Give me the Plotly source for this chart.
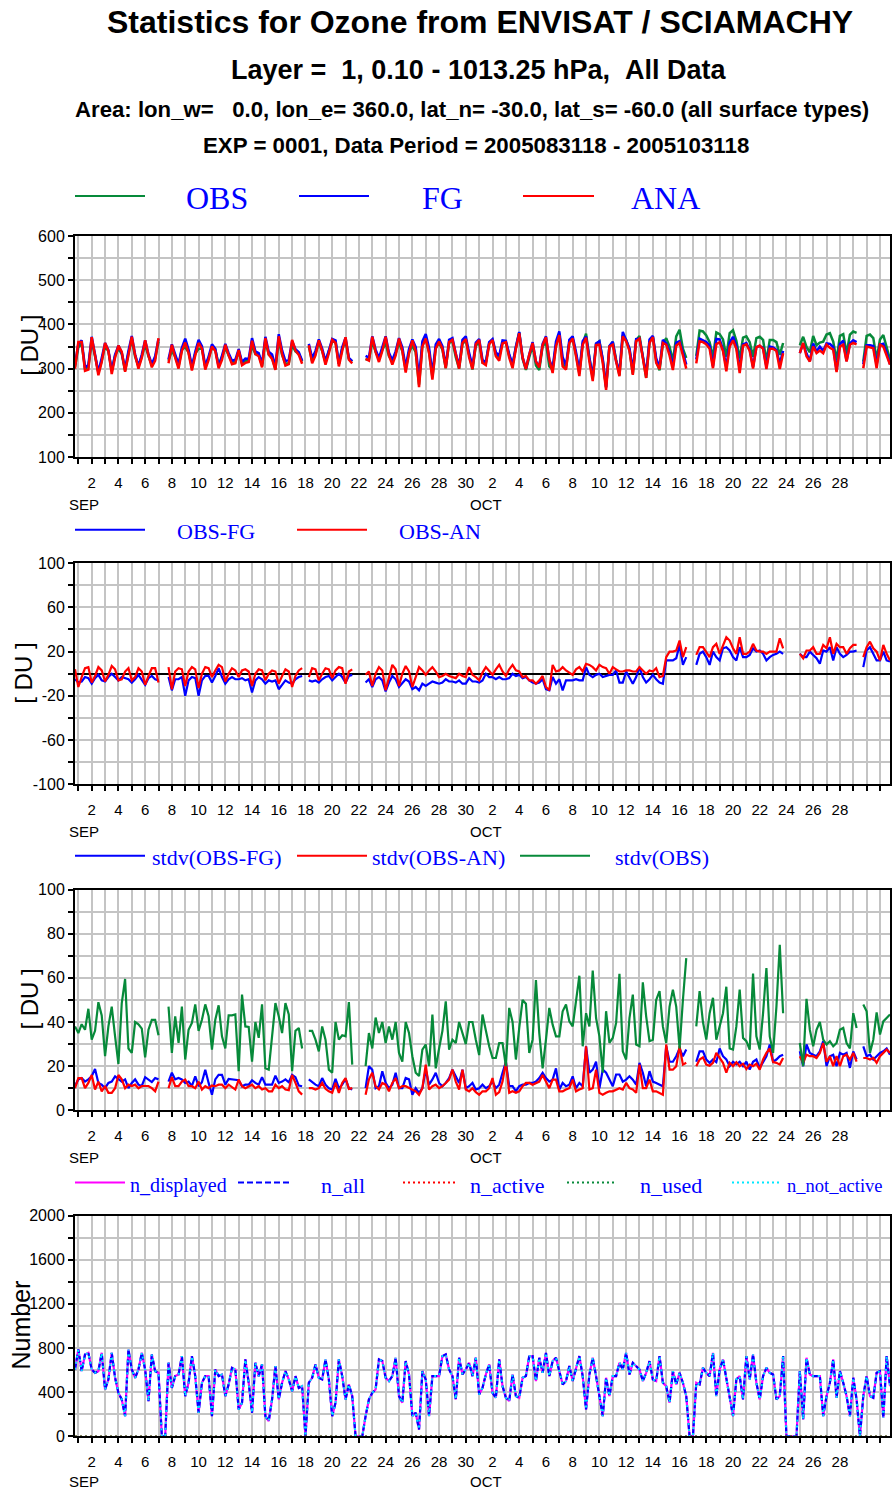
import pandas as pd
import plotly.graph_objects as go

W, H = 893, 1492
N = None

# 6-hourly analysis times
TIMES = pd.date_range("2005-08-31 18:00", "2005-10-31 18:00", freq="6h")

# ---------------- Panel 1 : OBS / FG / ANA  [DU]  (one row per day: 00,06,12,18 UTC)
OBS = [304,
    348, 357, 300, 304,  363, 328, 291, 318,  351, 339, 295, 329,  346, 333, 295, 335,
    366, 327, 305, 327,  354, 328, 308, 323,  361, N, N, 318,      340, 327, 305, 344,
    348, 337, 302, 334,  345, 345, 304, 325,  347, 343, 309, 326,  347, 330, 315, 315,
    339, 311, 317, 317,  352, 333, 332, 306,  363, 332, 325, 299,  364, 331, 311, 312,
    353, 339, 334, 316,  N, 350, 317, 334,    358, 340, 314, 339,  361, 361, 311, 345,
    362, 322, 316, N,    N, N, 321, 320,      361, 338, 321, 343,  357, 328, 317, 334,
    357, 340, 298, 337,  352, 337, 264, 353,  367, 338, 281, 347,  358, 343, 301, 358,
    362, 326, 300, 356,  364, 331, 298, 352,
    359, 314, 314, 357,  364, 332, 326, 359,  358, 329, 309, 348,  382, 322, 297, 326,
    352, 307, 297, 351,  359, 305, 298, 352,  379, 311, 301, 359,  367, 332, 289, 356,
    379, 324, 278, 356,  362, 319, 257, 350,  360, 320, 285, 375,  365, 343, 288, 364,
    374, 327, 279, 361,  373, 318, 296, 356,  369, 350, 317, 373,  388, 345, 324, N,
    N, 329, 386, 384,    375, 360, 325, 382,  378, 366, 327, 380,  387, 363, 323, 370,
    373, 360, 327, 369,  372, 365, 317, 365,  365, 360, 331, 358,  N, N, N, N,
    353, 372, 349, 337,  374, 353, 359, 361,  377, 380, 361, 319,  374, 378, 334, 377,
    384, 381, N, 316,    374, 377, 369, 321,  366, 376, 348, 321]

FG = [309,
    356, 364, 303, 308,  372, 332, 292, 324,  358, 342, 295, 332,  352, 336, 299, 340,
    374, 332, 306, 332,  364, 332, 310, 328,  367, N, N, 321,      355, 332, 310, 347,
    368, 343, 305, 338,  365, 351, 306, 327,  355, 345, 304, 329,  356, 335, 318, 320,
    344, 315, 323, 322,  369, 339, 335, 311,  372, 338, 332, 305,  378, 341, 317, 320,
    362, 344, 337, 318,  N, 356, 324, 340,    366, 345, 317, 341,  367, 364, 311, 348,
    370, 324, 317, N,    N, N, 329, 325,      373, 343, 324, 349,  373, 336, 319, 339,
    369, 348, 303, 344,  366, 349, 279, 362,  378, 347, 288, 355,  367, 351, 306, 365,
    369, 334, 306, 365,  373, 335, 305, 359,
    367, 320, 314, 360,  367, 337, 329, 364,  363, 333, 309, 350,  383, 326, 300, 332,
    360, 316, 305, 356,  373, 320, 301, 361,  384, 326, 307, 365,  373, 337, 295, 362,
    373, 325, 281, 357,  362, 322, 259, 351,  361, 317, 293, 383,  363, 346, 297, 367,
    368, 330, 287, 366,  374, 323, 304, 365,  357, 338, 305, 359,  362, 337, 309, N,
    N, 321, 368, 364,    360, 352, 305, 367,  366, 343, 303, 359,  372, 351, 299, 355,
    358, 343, 304, 349,  351, 347, 305, 350,  348, 342, 311, 340,  N, N, N, N,
    335, 357, 334, 317,  357, 339, 350, 340,  357, 356, 349, 295,  356, 363, 317, 357,
    364, 360, N, 310,    353, 353, 351, 309,  354, 356, 336, 310]

ANA = [300,
    360, 360, 295, 298,  371, 330, 285, 315,  358, 340, 288, 325,  352, 338, 293, 330,
    372, 330, 300, 325,  364, 330, 303, 318,  369, N, N, 312,      354, 325, 300, 340,
    359, 335, 296, 330,  358, 345, 298, 320,  350, 340, 301, 320,  354, 330, 310, 312,
    342, 308, 313, 315,  363, 333, 328, 303,  369, 332, 322, 297,  373, 333, 307, 310,
    365, 341, 331, 311,  N, 353, 312, 330,    364, 340, 309, 335,  365, 358, 305, 340,
    371, 320, 312, N,    N, N, 322, 318,      372, 338, 315, 340,  372, 330, 309, 330,
    368, 340, 291, 335,  364, 340, 258, 350,  368, 335, 275, 345,  361, 345, 301, 360,
    365, 330, 300, 358,  367, 325, 299, 355,
    365, 313, 308, 355,  365, 328, 318, 357,  360, 325, 301, 345,  380, 325, 299, 332,
    358, 316, 303, 353,  371, 320, 290, 350,  376, 305, 298, 358,  368, 328, 283, 354,
    370, 316, 272, 353,  354, 313, 252, 350,  354, 316, 283, 373,  362, 340, 286, 362,
    368, 324, 279, 358,  371, 313, 299, 358,  354, 330, 297, 352,  358, 330, 300, N,
    N, 312, 362, 360,    355, 345, 301, 355,  360, 340, 294, 350,  364, 345, 290, 352,
    355, 340, 300, 348,  352, 345, 299, 345,  345, 340, 299, 335,  N, N, N, N,
    335, 358, 328, 316,  350, 335, 341, 335,  354, 347, 343, 292,  350, 354, 316, 354,
    358, 355, N, 301,    350, 348, 346, 301,  354, 350, 330, 309]

# ---------------- Panel 2 : departures [DU]
OBS_FG = [-5,
    -8, -7, -3, -4,    -9, -4, -1, -6,    -7, -3, 0, -3,     -6, -3, -4, -5,
    -8, -5, -1, -5,    -10, -4, -2, -5,   -6, N, N, -3,      -15, -5, -5, -3,
    -20, -6, -3, -4,   -20, -6, -2, -2,   -8, -2, 5, -3,     -9, -5, -3, -5,
    -5, -4, -6, -5,    -17, -6, -3, -5,   -9, -6, -7, -6,    -14, -10, -6, -8,
    -9, -5, -3, -2,    N, -6, -7, -6,     -8, -5, -3, -2,    -6, -3, 0, -3,
    -8, -2, -1, N,     N, N, -8, -5,      -12, -5, -3, -6,   -16, -8, -2, -5,
    -12, -8, -5, -7,   -14, -12, -15, -9, -11, -9, -7, -8,   -9, -8, -5, -7,
    -7, -8, -6, -9,    -9, -4, -7, -7,
    -8, -6, 0, -3,     -3, -5, -3, -5,    -5, -4, 0, -2,     -1, -4, -3, -6,
    -8, -9, -8, -5,    -14, -15, -3, -9,  -5, -15, -6, -6,   -6, -5, -6, -6,
    6, -1, -3, -1,     0, -3, -2, -1,     -1, 3, -8, -8,     2, -3, -9, -3,
    6, -3, -8, -5,     -1, -5, -8, -9,    12, 12, 12, 14,    26, 8, 15, N,
    N, 8, 18, 20,      15, 8, 20, 15,     12, 23, 24, 21,    15, 12, 24, 15,
    15, 17, 23, 20,    21, 18, 12, 15,    17, 18, 20, 18,    N, N, N, N,
    18, 15, 15, 20,    17, 14, 9, 21,     20, 24, 12, 24,    18, 15, 17, 20,
    20, 21, N, 6,      21, 24, 18, 12,    12, 20, 12, 11]

OBS_AN = [4,
    -12, -3, 5, 6,     -8, -2, 6, 3,      -7, -1, 7, 4,      -6, -5, 2, 5,
    -6, -3, 5, 2,      -10, -2, 5, 5,     -8, N, N, 6,       -14, 2, 5, 4,
    -11, 2, 6, 4,      -13, 0, 6, 5,      -3, 3, 8, 6,       -7, 0, 5, 3,
    -3, 3, 4, 2,       -11, 0, 4, 3,      -6, 0, 3, 2,       -9, -2, 4, 2,
    -12, -2, 3, 5,     N, -3, 5, 4,       -6, 0, 5, 4,       -4, 3, 6, 5,
    -9, 2, 4, N,       N, N, -1, 2,       -11, 0, 6, 3,      -15, -2, 8, 4,
    -11, 0, 7, 2,      -12, -3, 6, 3,     -1, 3, 6, 2,       -3, -2, 0, -2,
    -3, -4, 0, -2,     -3, 6, -1, -3,
    -6, 1, 6, 2,       -1, 4, 8, 2,       -2, 4, 8, 3,       2, -3, -2, -6,
    -6, -9, -6, -2,    -12, -15, 8, 2,    3, 6, 3, 1,        -1, 4, 6, 2,
    9, 8, 6, 3,        8, 6, 5, 0,        6, 4, 2, 2,        3, 3, 2, 2,
    6, 3, 0, 3,        2, 5, -3, -2,      15, 20, 20, 21,    30, 15, 24, N,
    N, 17, 24, 24,     20, 15, 24, 27,    18, 26, 33, 30,    23, 18, 33, 18,
    18, 20, 27, 21,    20, 20, 18, 20,    20, 20, 32, 23,    N, N, N, N,
    18, 14, 21, 21,    24, 18, 18, 26,    23, 33, 18, 27,    24, 24, 18, 23,
    26, 26, N, 15,     24, 29, 23, 20,    12, 26, 18, 12]

# ---------------- Panel 3 : standard deviations [DU]
STDV_FG = [
    11, 14, 14.6, 13, 14, 15.4, 18.7, 12.4, 11.6, 10, 12.4, 13, 15.4, 14, 13, 14, 10, 12.4, 14, 11.6,
    11, 15, 14, 12.8, 14.6, 14,
    N, N,
    13, 17, 14, 14.6, 14, 12.4, 13, 11, 15.4, 10.9, 12.7, 18.4, 12.4, 7, 14, 16, 16, 11.6, 14.2, 14,
    14, 13.6, 10.9, 11.6, 11.6, 13.6, 12.4, 11.6, 15, 11.6, 11.6, 11.6, 15.7, 12.4, 13, 14, 12.7, 16, 15, 11.2,
    10.9,
    N,
    14, 12.7, 11.6, 10.9, 14.6, 11.6, 10, 9.4, 14.2, 10, 11.6, 14.2, 10, 9.4,
    N, N, N,
    10, 20, 18.4, 10, 10.9, 17.7, 12.4, 10, 11.6, 17, 10, 10, 14.6, 14, 7, 10, 7.9, 10, 18.4, 11.6,
    14, 17, 12.4, 10.9, 12.4, 14.6,
    18.4, 15.4, 12.4, 18.4, 10, 10.9, 12.4, 9.4, 10, 11.6, 10, 10.9, 13, 10, 11.6, 17, 22, 10.9, 10.9, 8.6,
    10.9, 11.6, 11.6, 12.4, 12.4, 13, 14.6, 17, 14.6, 13, 13.9, 19, 9.4, 12.4, 10.9, 11.6, 15.4, 10, 12.4, 10.9,
    29, 17, 18.4, 22, 10, 18.4, 17, 13.9, 10.9, 16.2, 16.2, 13, 13.9, 15.4, 13.9, 11.6, 21.5, 17, 10.9, 17.7,
    13, 12.4, 11.6, 10.9, 29, 22, 22, 24.5, 28, 24.5, 27.5,
    N, N,
    22, 26.7, 26.7, 23, 21.5, 23, 21.8, 28, 24.5, 23, 20, 22, 20.8, 22, 20, 22, 18.4, 22, 23, 19.2,
    21.8, 24.5, 29.8, 22, 23, 24.5, 25.2,
    N, N, N, N,
    26.7, 20, 29.8, 26, 25.2, 24.5, 26.7, 31.3, 20, 24.5, 25.2, 20, 26, 25.2, 26, 19.2, 26.7, 23,
    N,
    29, 24.5, 25.2, 23, 24.5, 26, 26.7, 28, 25.2]

STDV_AN = [
    10, 14.6, 14.6, 10, 12.4, 16, 9.4, 13, 8.6, 11, 7.9, 7.9, 10, 16, 14, 10, 11.6, 11, 11.6, 10,
    11, 11, 11, 10, 8.6, 13,
    N, N,
    10, 15, 10.9, 10.9, 13, 13.9, 10.9, 10.9, 10, 13, 9.4, 10.9, 10, 11.2, 10.9, 11.6, 11.6, 10, 11.6, 10.6,
    9.4, 13.9, 10.9, 10, 10.9, 11.6, 10, 10.9, 9.4, 10, 8.6, 8.6, 11.6, 10, 10.9, 9.4, 9.1, 16, 12.4, 8.6,
    7.1,
    N,
    10, 10, 9.4, 10, 12.4, 9.7, 8.6, 7.9, 12.4, 7.9, 12.4, 14.6, 9.7, 10,
    N, N, N,
    7, 14, 17, 10.9, 9.4, 12.4, 11.6, 8.6, 12.4, 14.6, 10, 10.9, 10.9, 10, 9.4, 8.6, 7, 10, 20.7, 9.4,
    10.9, 11.6, 10, 10.9, 12.4, 13.9,
    18.4, 13, 9.4, 18.4, 9.4, 8.6, 10, 8.2, 7, 8.6, 8.6, 10, 14.6, 7, 8.2, 13, 22, 7.9, 8.6, 7.9,
    8.6, 10.9, 12.4, 12.4, 11.6, 12.4, 13, 16, 13, 10, 13.9, 13.9, 8.6, 8.6, 9.4, 10, 13.9, 8.6, 9.4, 10,
    29, 9.4, 10, 18.4, 7.9, 7, 7.9, 8.6, 8.6, 9.4, 10, 9.4, 12.4, 10, 9.4, 7.9, 20.7, 10, 10, 13.9,
    8.6, 8.6, 7.9, 7, 29.8, 18.4, 18.4, 20, 29, 20.7, 21.5,
    N, N,
    20, 23, 24, 20.7, 20.2, 21.5, 26, 23.7, 21.5, 17, 21.5, 20, 21.8, 20, 21.1, 18.7, 20.7, 20, 21.1, 18.4,
    23, 26, 28, 21.8, 21.5, 20.7, 23.7,
    N, N, N, N,
    24.5, 21.5, 25.2, 24.5, 24.5, 23.7, 26, 30.5, 22, 24.5, 20, 24.5, 20, 24.5, 25.2, 23, 26, 22,
    N,
    23.7, 23.7, 23, 23.7, 21.5, 24.5, 26, 27.5, 26]

STDV_OBS = [
    38, 35, 39, 36.5, 46, 32, 36, 49, 43, 24.5, 38, 47, 33.5, 21, 48.6, 59.5, 28, 26, 40, 39,
    37, 24, 36.5, 41, 41, 34,
    N, N,
    47, 26, 42.6, 30.5, 47, 23, 36.5, 39.6, 48, 36, 41, 48, 42.6, 27.5, 41, 47.6, 33.5, 28, 43, 43,
    43.4, 17.7, 52.4, 38, 37.8, 22, 40, 32.8, 48, 19, 18.4, 33.5, 48.6, 42.6, 35, 48.6, 43.4, 17.7, 36, 37.3,
    28,
    N,
    36, 36, 32, 26.7, 38, 32, 18.4, 17, 40, 32, 34, 33.5, 49, 20.7,
    N, N, N,
    20, 35, 28, 42, 35, 40, 30.5, 38, 32, 40, 26, 22, 40, 35, 24.5, 17, 15.5, 27.5, 29.8, 20,
    43.4, 19, 28, 36, 49.4, 27.5,
    32, 30.5, 40, 35, 30, 40, 40, 32, 25, 43.4, 36.5, 29, 23.7, 23.7, 30.5, 30.5, 20, 46.4, 40, 23,
    37.3, 50, 48.3, 26, 32, 59, 35, 19, 32, 46.4, 38.8, 33.5, 33.5, 44.9, 47.9, 40.3, 38, 48.6, 61, 29,
    44, 38, 63.3, 41.8, 33.5, 17, 44.9, 30.5, 32.8, 39.6, 61.8, 26.7, 23, 41.8, 52.4, 29.8, 29, 58, 42.6, 31.3,
    32, 50, 54, 38, 30.5, 47, 54.7, 47, 28, 50, 69,
    N, N,
    38, 54, 40, 32, 44, 51, 32, 38, 44, 56, 28, 27.5, 38, 54.7, 32.8, 31.3, 27.5, 62, 33.5, 27.5,
    44, 64.5, 33.5, 26, 47, 75, 44,
    N, N, N, N,
    30.5, 20, 50.5, 36.5, 29, 36.5, 40, 32, 29.8, 31.3, 29, 30.5, 36.5, 37.3, 30.5, 28, 44, 37.3,
    N,
    47.9, 44.9, 26, 32, 44.4, 34.3, 40.3, 41.8, 43.4]

# ---------------- Panel 4 : number of observations
N_ALL = [
    606, 787, 591, 742, 757, 606, 576, 591, 757, 425,
    516, 757, 531, 395, 335, 184, 787, 606, 531, 606,
    757, 606, 320, 742, 591, 576, 0, 0, 667, 440,
    546, 561, 727, 365, 486, 727, 546, 214, 486, 546,
    546, 184, 606, 546, 561, 365, 471, 621, 606, 244,
    305, 697, 486, 214, 667, 546, 652, 184, 139, 335,
    637, 335, 486, 591, 516, 410, 546, 440, 455, 0,
    486, 531, 652, 531, 516, 697, 516, 184, 305, 697,
    546, 335, 471, 365, 0, 0, 0, 184, 335, 395,
    425, 697, 682, 531, 501, 546, 712, 365, 305, 682,
    561, 184, 214, 63, 591, 516, 184, 546, 546, 546,
    727, 742, 606,
    546, 335, 712, 561, 606, 667, 546,
    712, 380, 440, 561, 652, 395, 350, 697, 455, 350,
    320, 561, 365, 350, 531, 546, 727, 727, 501, 712,
    576, 757, 546, 682, 712, 576, 471, 501, 637, 501,
    621, 727, 546, 244, 561, 712, 546, 365, 184, 531,
    365, 546, 546, 667, 606, 757, 561, 667, 637, 606,
    501, 576, 682, 516, 501, 727, 486, 455, 305, 591,
    471, 576, 486, 365, 0, 0, 486, 471, 621, 576,
    546, 757, 365, 606, 697, 531, 365, 184, 516, 546,
    335, 727, 516, 742, 486, 335, 546, 621, 576, 561,
    335, 365, 727, 0, 0, 0, 0, 591, 154, 712,
    561, 546, 546, 546, 184, 365, 486, 697, 350, 591,
    486, 365, 184, 531, 335, 0, 365, 546, 365, 350,
    576, 591, 169, 727, 455]
N_DISPLAYED = N_ALL
N_NOT_ACTIVE = N_ALL
N_ACTIVE = [0] * 245   # passive monitoring: no active data
N_USED = [0] * 245

for _s in (OBS, FG, ANA, OBS_FG, OBS_AN, STDV_FG, STDV_AN, STDV_OBS, N_ALL):
    assert len(_s) == len(TIMES), len(_s)

# ---------------- axis tick labels
DAYS = pd.date_range("2005-09-01", "2005-10-31", freq="D")
X_TICK_TEXT = ["", "2", "", "4", "", "6", "", "8", "", "10", "", "12", "", "14", "", "16", "", "18",
               "", "20", "", "22", "", "24", "", "26", "", "28", "", "30",
               "", "2", "", "4", "", "6", "", "8", "", "10", "", "12", "", "14", "", "16", "", "18",
               "", "20", "", "22", "", "24", "", "26", "", "28", "", "", ""]
MONTHS = ["SEP", "OCT"]

Y1_VALS = [100, 150, 200, 250, 300, 350, 400, 450, 500, 550, 600]
Y1_TEXT = ["100", "", "200", "", "300", "", "400", "", "500", "", "600"]
Y2_VALS = [-100, -80, -60, -40, -20, 0, 20, 40, 60, 80, 100]
Y2_TEXT = ["-100", "", "-60", "", "-20", "", "20", "", "60", "", "100"]
Y3_VALS = [0, 10, 20, 30, 40, 50, 60, 70, 80, 90, 100]
Y3_TEXT = ["0", "", "20", "", "40", "", "60", "", "80", "", "100"]
Y4_VALS = [0, 200, 400, 600, 800, 1000, 1200, 1400, 1600, 1800, 2000]
Y4_TEXT = ["0", "", "400", "", "800", "", "1200", "", "1600", "", "2000"]

GREEN, BLUE, RED = "#078a3a", "#0000ff", "#ff0000"
MAGENTA, CYAN = "#ff00ff", "#00e8ff"
SANS = "Liberation Sans, Arial, sans-serif"
SERIF = "Liberation Serif, Times New Roman, serif"

# vertical calibration of the photographed page (observed: shown_y = 8 + 0.989 * page_y)
V_OFF, V_SCALE = 8.0, 0.989


def px(x):
    return x / W


def py(y):
    page_y = (y - V_OFF) / V_SCALE
    return 1 - page_y / H


fig = go.Figure()


def line(y, name, color, ax, width=2.0, dash="solid"):
    fig.add_trace(go.Scatter(x=TIMES, y=y, name=name, mode="lines", xaxis="x" + ax, yaxis="y" + ax,
                             line=dict(color=color, width=width, dash=dash), showlegend=False,
                             connectgaps=False))


line(OBS, "OBS", GREEN, "", 2.5)
line(FG, "FG", BLUE, "", 2.5)
line(ANA, "ANA", RED, "", 2.5)
line(OBS_FG, "OBS-FG", BLUE, "2", 2.2)
line(OBS_AN, "OBS-AN", RED, "2", 2.2)
line(STDV_FG, "stdv(OBS-FG)", BLUE, "3", 2.2)
line(STDV_AN, "stdv(OBS-AN)", RED, "3", 2.2)
line(STDV_OBS, "stdv(OBS)", GREEN, "3", 2.2)
line(N_DISPLAYED, "n_displayed", MAGENTA, "4", 2.2)
line(N_ALL, "n_all", BLUE, "4", 2.2, "6px,3px")
line(N_ACTIVE, "n_active", RED, "4", 2.0, "2px,3px")
line(N_USED, "n_used", GREEN, "4", 2.0, "2px,3px")
line(N_NOT_ACTIVE, "n_not_active", CYAN, "4", 2.0, "2px,4px")

# panel pixel extents (top, bottom) as seen in the reference
PANELS = [(236, 457.3), (563.3, 784.7), (890, 1110.7), (1216, 1437)]
YRANGES = [(100, 600), (-100, 100), (0, 100), (0, 2000)]
YTICKS = [(Y1_VALS, Y1_TEXT), (Y2_VALS, Y2_TEXT), (Y3_VALS, Y3_TEXT), (Y4_VALS, Y4_TEXT)]

layout = dict(width=W, height=H, margin=dict(l=0, r=0, t=0, b=0),
              paper_bgcolor="white", plot_bgcolor="white", showlegend=False,
              font=dict(family=SANS, color="black"))

for i, ((top, bot), yr, (tv, tt)) in enumerate(zip(PANELS, YRANGES, YTICKS)):
    sfx = "" if i == 0 else str(i + 1)
    layout["xaxis" + sfx] = dict(
        domain=[px(75), px(890)], anchor="y" + sfx, type="date",
        range=["2005-08-31 18:00", "2005-10-31 18:00"],
        tickmode="array", tickvals=list(DAYS), ticktext=X_TICK_TEXT,
        ticks="outside", ticklen=5, tickwidth=2, tickcolor="black",
        tickfont=dict(size=15, family=SANS, color="black"), tickangle=0,
        ticklabelstandoff=6,
        showgrid=True, gridcolor="#c4c4c4", gridwidth=1.6,
        showline=True, linecolor="black", linewidth=2, mirror=True, zeroline=False)
    layout["yaxis" + sfx] = dict(
        domain=[py(bot), py(top)], anchor="x" + sfx, range=list(yr),
        tickmode="array", tickvals=tv, ticktext=tt,
        ticks="outside", ticklen=5, tickwidth=2, tickcolor="black",
        tickfont=dict(size=16, family=SANS, color="black"),
        showgrid=True, gridcolor="#c4c4c4", gridwidth=1.6,
        showline=True, linecolor="black", linewidth=2, mirror=True,
        zeroline=(i == 1), zerolinecolor="black", zerolinewidth=2)

annotations = []
shapes = []


def text(x, y, s, size, family=SANS, color="black", bold=False, angle=0):
    annotations.append(dict(x=px(x), y=py(y), xref="paper", yref="paper", text=("<b>%s</b>" % s) if bold else s,
                            showarrow=False, xanchor="center", yanchor="middle", textangle=angle,
                            font=dict(size=size, family=family, color=color)))


NB = "\u00a0"
text(480, 22, "Statistics for Ozone from ENVISAT / SCIAMACHY", 32, bold=True)
text(479, 70, "Layer =" + NB * 2 + "1, 0.10 - 1013.25 hPa," + NB * 2 + "All Data", 27, bold=True)
text(472, 110, "Area: lon_w=" + NB * 3 + "0.0, lon_e= 360.0, lat_n= -30.0, lat_s= -60.0 (all surface types)",
     22.2, bold=True)
text(476, 146, "EXP = 0001, Data Period = 2005083118 - 2005103118", 22.3, bold=True)

# month labels below each panel (last one kept inside the page)
for (top, bot) in PANELS:
    my = min(bot + 47, 1482)
    text(84, my, MONTHS[0], 15)
    text(486, my, MONTHS[1], 15)

# y-axis titles
text(30, 346, "[ DU ]", 24, angle=-90)
text(24, 674, "[ DU ]", 24, angle=-90)
text(30, 1000, "[ DU ]", 24, angle=-90)
text(21, 1326, "Number", 25, angle=-90)


def key(x0, x1, y, color, dash="solid", width=2):
    shapes.append(dict(type="line", xref="paper", yref="paper", x0=px(x0), x1=px(x1), y0=py(y), y1=py(y),
                       line=dict(color=color, width=width, dash=dash)))


# legend 1
key(75, 145, 196, GREEN); text(217, 198, "OBS", 32, SERIF, BLUE)
key(299, 369, 196, BLUE); text(442, 198, "FG", 32, SERIF, BLUE)
key(523, 594, 196, RED); text(665, 198, "ANA", 32, SERIF, BLUE)
# legend 2
key(75, 145, 530, BLUE); text(216, 532, "OBS-FG", 22, SERIF, BLUE)
key(297, 367, 530, RED); text(440, 532, "OBS-AN", 22, SERIF, BLUE)
# legend 3
key(75, 145, 856, BLUE); text(217, 858, "stdv(OBS-FG)", 22, SERIF, BLUE)
key(297, 367, 856, RED); text(438, 858, "stdv(OBS-AN)", 22, SERIF, BLUE)
key(520, 590, 856, GREEN); text(662, 858, "stdv(OBS)", 22, SERIF, BLUE)
# legend 4
key(75, 125, 1183, MAGENTA); text(178, 1186, "n_displayed", 20, SERIF, BLUE)
key(238, 290, 1183, BLUE, "6px,3px"); text(343, 1186, "n_all", 22, SERIF, BLUE)
key(403, 455, 1183, RED, "2px,3px"); text(507, 1186, "n_active", 22, SERIF, BLUE)
key(567, 615, 1183, GREEN, "2px,3px"); text(671, 1186, "n_used", 22, SERIF, BLUE)
key(732, 780, 1183, CYAN, "2px,3px"); text(835, 1186, "n_not_active", 18.5, SERIF, BLUE)

layout["annotations"] = annotations
layout["shapes"] = shapes
fig.update_layout(**layout)

PIN_TOP_LEFT = ("document.documentElement.style.margin='0';document.body.style.margin='0';"
                "document.documentElement.style.overflow='hidden';document.body.style.overflow='hidden';"
                "var gd=document.getElementById('{plot_id}');"
                "gd.style.position='fixed';gd.style.left='0px';gd.style.top='0px';")
fig.write_html("out.html", config={"displayModeBar": False}, post_script=PIN_TOP_LEFT)
